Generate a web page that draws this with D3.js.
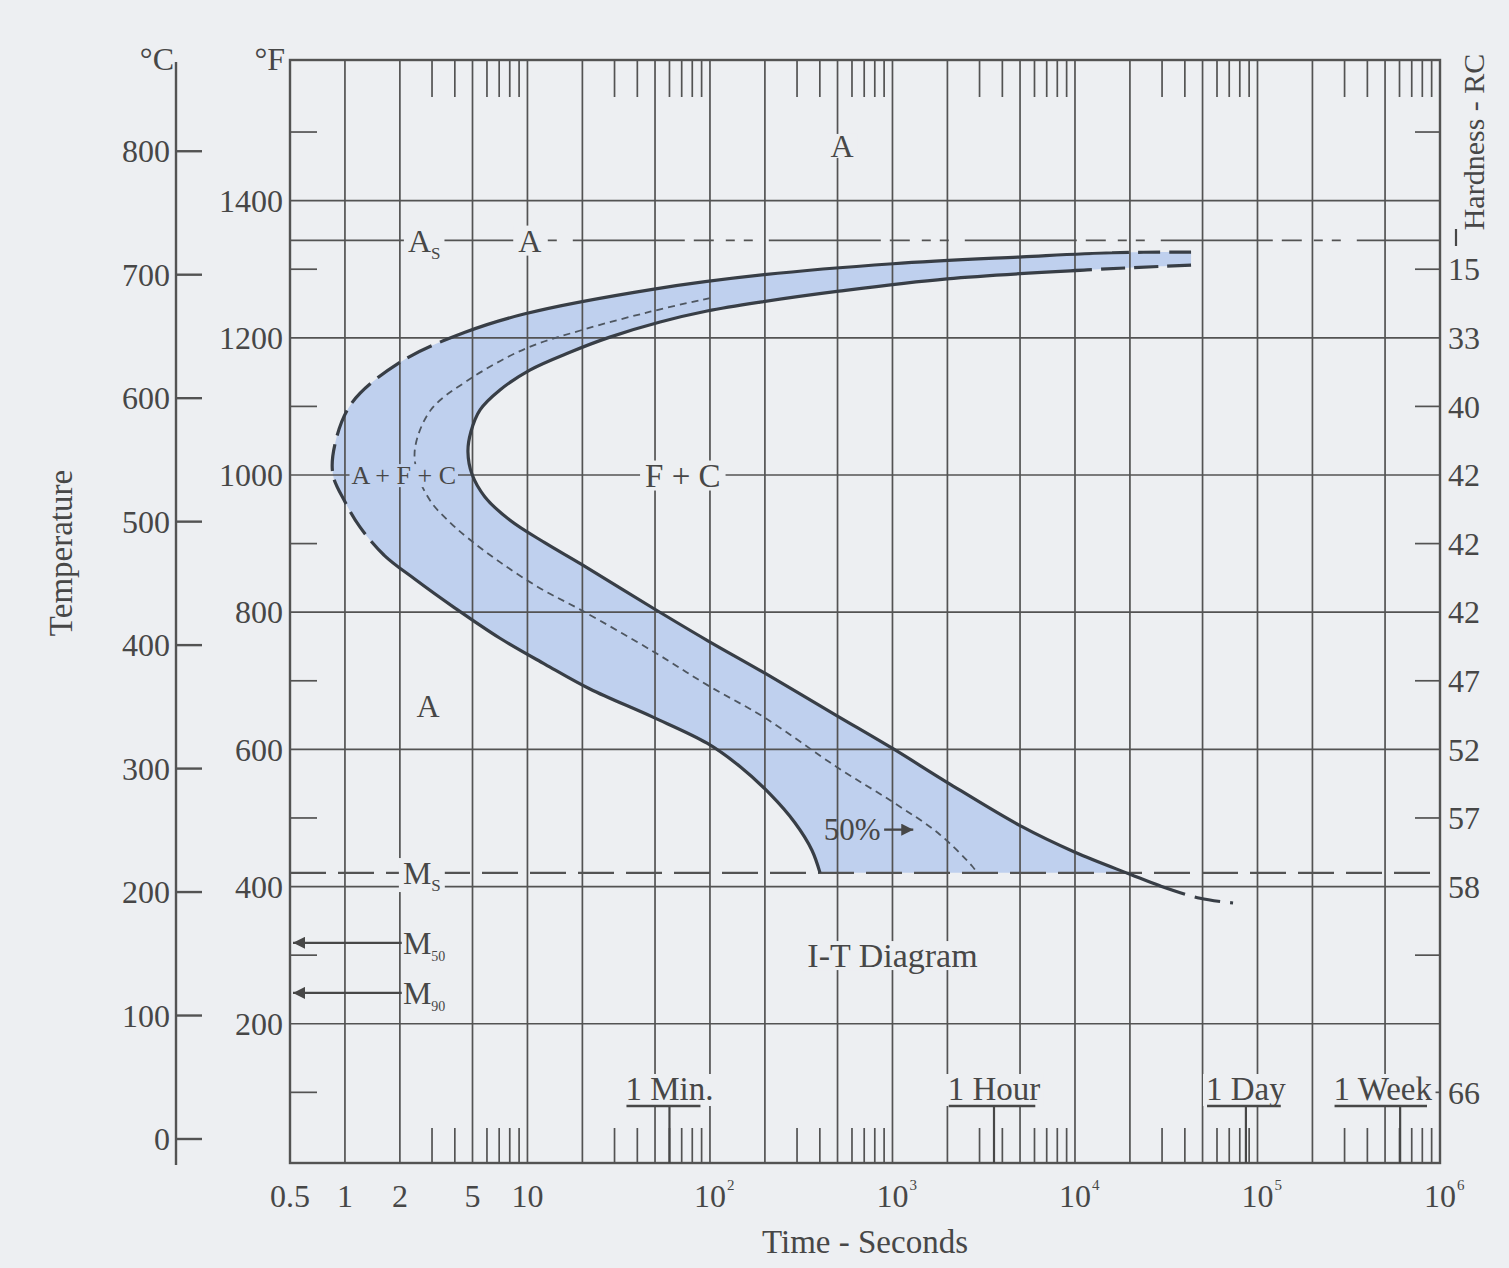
<!DOCTYPE html>
<html>
<head>
<meta charset="utf-8">
<script src="https://cdn.jsdelivr.net/npm/d3@7"></script>
<style>
  html, body { margin: 0; padding: 0; background: #edeff2; }
  svg { display: block; }
  text { font-family: "Liberation Serif", "Times New Roman", serif; fill: #474747; }
</style>
</head>
<body>
<svg id="chart" width="1509" height="1268"></svg>
<script>
// ---------------- data ----------------
// time axis (seconds, log scale)
const timeGridValues = [1, 2, 5, 10, 20, 50, 100, 200, 500, 1e3, 2e3, 5e3, 1e4, 2e4, 5e4, 1e5, 2e5, 5e5];
const timeMinorMultipliers = [3, 4, 6, 7, 8, 9];
const timeMinorDecades = [1, 10, 100, 1e3, 1e4, 1e5];
const timeTickValues = [0.5, 1, 2, 5, 10, 100, 1e3, 1e4, 1e5, 1e6];
const timeTickLabels = ["0.5", "1", "2", "5", "10", "10", "10", "10", "10", "10"];
const timeTickExponents = ["", "", "", "", "", "2", "3", "4", "5", "6"];

// temperature axes
const fahrenheitLabels = [1400, 1200, 1000, 800, 600, 400, 200];
const fahrenheitMinor = [1500, 1300, 1100, 900, 700, 500, 300, 100];
const celsiusTicks = [0, 100, 200, 300, 400, 500, 600, 700, 800];

// hardness (Rockwell C) after transformation at each temperature
const hardnessTemps = [1300, 1200, 1100, 1000, 900, 800, 700, 600, 500, 400, 100];
const hardnessValues = ["15", "33", "40", "42", "42", "42", "47", "52", "57", "58", "66"];

// critical temperatures (°F)
const AS_TEMP = 1342;
const MS_TEMP = 420;
const M50_TEMP = 318;
const M90_TEMP = 245;

// transformation start curve  [time s, temp °F]
const startCurve = [
  [43250, 1325], [15960, 1324], [5128, 1318], [1007, 1308], [198, 1292], [49.4, 1271],
  [9.7, 1235], [4.55, 1208], [2.05, 1166], [1.09, 1105], [0.88, 1044], [0.86, 1000],
  [1.0, 961], [1.21, 924], [1.64, 883], [2.42, 848], [4.01, 806], [7.07, 762],
  [12.5, 724], [22, 688], [48.7, 647], [96.4, 609], [146, 575], [213, 535],
  [292, 493], [362, 453], [401, 420]
];
// transformation finish curve
const finishCurve = [
  [43250, 1306], [11640, 1299], [1990, 1286], [509, 1268], [188, 1252], [96.4, 1239],
  [53.3, 1223], [28.3, 1201], [17.1, 1179], [10.3, 1153], [7.07, 1124], [5.5, 1095],
  [4.9, 1063], [4.72, 1034], [4.97, 1001], [5.85, 968], [8.03, 934], [12.5, 901],
  [19.7, 870], [49.4, 805], [96.4, 759], [200, 711], [497, 649], [1007, 601],
  [1990, 552], [5063, 488], [10000, 450], [20030, 418], [29250, 401], [48450, 383],
  [73470, 376]
];
// 50% transformed curve
const halfCurve = [
  [100, 1258], [47, 1238], [19.7, 1211], [9.7, 1184], [4.72, 1138], [2.96, 1095],
  [2.42, 1039], [2.51, 1000], [2.96, 961], [3.76, 931], [4.72, 908], [7.07, 873],
  [11.7, 835], [19.7, 803], [49.4, 742], [96.4, 694], [200, 646], [497, 574],
  [1007, 523], [1777, 478], [2729, 430], [2907, 420]
];

// time markers along the bottom
const timeMarkLabels = ["1 Min.", "1 Hour", "1 Day", "1 Week"];
const timeMarkSeconds = [60, 3600, 86400, 604800];

// ---------------- layout ----------------
const BG = "#edeff2", INK = "#474747", GRID = "#535353", CURVE = "#383e46", BAND = "#bfd0ee";
const plot = { left: 290, right: 1440, top: 60, bottom: 1163 };
const celsiusAxisX = 176;

const svg = d3.select("#chart");
svg.append("rect").attr("width", 1509).attr("height", 1268).attr("fill", BG);

const x = d3.scaleLog().domain([0.5, 1e6]).range([plot.left, plot.right]);
const yF = d3.scaleLinear().domain([-3, 1605]).range([plot.bottom, plot.top]);
const yC = d3.scaleLinear()
  .domain([(-3 - 32) * 5 / 9, (1605 - 32) * 5 / 9])
  .range([plot.bottom, plot.top]);

const curveLine = d3.line()
  .x(d => x(d[0]))
  .y(d => yF(d[1]))
  .curve(d3.curveCatmullRom.alpha(0.5));

// ---------------- defs ----------------
const defs = svg.append("defs");
defs.append("clipPath").attr("id", "aboveMs")
  .append("rect")
  .attr("x", plot.left).attr("y", plot.top)
  .attr("width", plot.right - plot.left)
  .attr("height", yF(MS_TEMP) - plot.top);

defs.append("marker")
  .attr("id", "arrowHead")
  .attr("viewBox", "0 -5 10 10")
  .attr("refX", 10).attr("refY", 0)
  .attr("markerUnits", "userSpaceOnUse")
  .attr("markerWidth", 17).attr("markerHeight", 12)
  .attr("orient", "auto")
  .append("path").attr("d", "M0,-5L10,0L0,5Z").attr("fill", INK);

// ---------------- band between start and finish ----------------
const bandPath = curveLine(startCurve) + "L" +
  curveLine(finishCurve.slice().reverse()).slice(1) + "Z";
svg.append("path")
  .attr("d", bandPath)
  .attr("fill", BAND)
  .attr("clip-path", "url(#aboveMs)");

// ---------------- grid ----------------
const grid = svg.append("g").attr("stroke", GRID).attr("stroke-width", 1.7);

grid.selectAll(".vgrid").data(timeGridValues).join("line")
  .attr("x1", d => x(d)).attr("x2", d => x(d))
  .attr("y1", plot.top).attr("y2", plot.bottom);

grid.selectAll(".hgrid").data(fahrenheitLabels).join("line")
  .attr("x1", plot.left).attr("x2", plot.right)
  .attr("y1", d => yF(d)).attr("y2", d => yF(d));

// minor time ticks, top and bottom
const minorTimes = [];
timeMinorDecades.forEach(dec => timeMinorMultipliers.forEach(m => minorTimes.push(dec * m)));
grid.selectAll(".tTop").data(minorTimes).join("line")
  .attr("x1", d => x(d)).attr("x2", d => x(d))
  .attr("y1", plot.top).attr("y2", plot.top + 37);
grid.selectAll(".tBot").data(minorTimes).join("line")
  .attr("x1", d => x(d)).attr("x2", d => x(d))
  .attr("y1", plot.bottom).attr("y2", plot.bottom - 35);

// odd-hundred temperature ticks, left and right
grid.selectAll(".fl").data(fahrenheitMinor).join("line")
  .attr("x1", plot.left).attr("x2", plot.left + 27)
  .attr("y1", d => yF(d)).attr("y2", d => yF(d));
grid.selectAll(".fr").data(fahrenheitMinor).join("line")
  .attr("x1", plot.right).attr("x2", plot.right - 25)
  .attr("y1", d => yF(d)).attr("y2", d => yF(d));

// frame
svg.append("rect")
  .attr("x", plot.left).attr("y", plot.top)
  .attr("width", plot.right - plot.left).attr("height", plot.bottom - plot.top)
  .attr("fill", "none").attr("stroke", GRID).attr("stroke-width", 2.4);

// Celsius axis
const cAxis = svg.append("g").attr("stroke", GRID).attr("stroke-width", 2.4);
cAxis.append("line")
  .attr("x1", celsiusAxisX).attr("x2", celsiusAxisX)
  .attr("y1", plot.top + 2).attr("y2", plot.bottom + 2);
cAxis.selectAll(".ct").data(celsiusTicks).join("line")
  .attr("x1", celsiusAxisX).attr("x2", celsiusAxisX + 26)
  .attr("y1", d => yC(d)).attr("y2", d => yC(d));

// ---------------- reference lines ----------------
const refs = svg.append("g").attr("stroke", GRID).attr("stroke-width", 1.9).attr("fill", "none");
// As line: solid up to the label, dashed beyond
refs.append("line")
  .attr("x1", plot.left).attr("x2", x(10.3))
  .attr("y1", yF(AS_TEMP)).attr("y2", yF(AS_TEMP));
refs.append("line")
  .attr("x1", x(10.3)).attr("x2", plot.right)
  .attr("y1", yF(AS_TEMP)).attr("y2", yF(AS_TEMP))
  .attr("stroke-dasharray", "9,9,9,16,112,9,20,12");
// Ms line
refs.append("line")
  .attr("x1", plot.left).attr("x2", plot.right)
  .attr("y1", yF(MS_TEMP)).attr("y2", yF(MS_TEMP))
  .attr("stroke-width", 2.1)
  .attr("stroke-dasharray", "36,12");
// M50, M90 arrows
[M50_TEMP, M90_TEMP].forEach(T => {
  svg.append("line")
    .attr("x1", x(2) + 2).attr("x2", plot.left + 3)
    .attr("y1", yF(T)).attr("y2", yF(T))
    .attr("stroke", INK).attr("stroke-width", 2.3)
    .attr("marker-end", "url(#arrowHead)");
});

// ---------------- curves ----------------
const tmpPath = svg.append("path").attr("visibility", "hidden");
function lengthsAt(points) {
  return points.map((p, i) => i === 0 ? 0 :
    tmpPath.attr("d", curveLine(points.slice(0, i + 1))).node().getTotalLength());
}
// dash pattern that is solid on some stretches of a curve and dashed on others
function dashArray(points, segments) {
  const lens = lengthsAt(points);
  const arr = [];
  segments.forEach(s => {
    const L = lens[s.to] - lens[s.from];
    if (!s.dash) { arr.push(L, 0); return; }
    let acc = 0;
    while (acc < L - 0.5) {
      const d = Math.min(s.dash[0], L - acc); acc += d;
      const g = Math.min(s.dash[1], Math.max(0, L - acc)); acc += g;
      arr.push(d, g);
    }
  });
  arr.push(2000, 0);
  return arr.map(v => v.toFixed(2)).join(",");
}

const curves = svg.append("g").attr("fill", "none").attr("stroke", CURVE);

curves.append("path")
  .attr("d", curveLine(startCurve))
  .attr("stroke-width", 3.2)
  .attr("stroke-dasharray", dashArray(startCurve, [
    { from: 0, to: 1, dash: [22, 9] },
    { from: 1, to: 7 },
    { from: 7, to: 14, dash: [27, 9] },
    { from: 14, to: startCurve.length - 1 }
  ]));

curves.append("path")
  .attr("d", curveLine(finishCurve))
  .attr("stroke-width", 3.2)
  .attr("stroke-dasharray", dashArray(finishCurve, [
    { from: 0, to: 1, dash: [24, 9] },
    { from: 1, to: 28 },
    { from: 28, to: finishCurve.length - 1, dash: [26, 10] }
  ]));

curves.append("path")
  .attr("d", curveLine(halfCurve))
  .attr("stroke", "#4e5660")
  .attr("stroke-width", 1.8)
  .attr("stroke-dasharray", "7,5");

tmpPath.remove();

// 50% pointer
svg.append("line")
  .attr("x1", x(900)).attr("x2", x(1300))
  .attr("y1", yF(483)).attr("y2", yF(483))
  .attr("stroke", INK).attr("stroke-width", 2.3)
  .attr("marker-end", "url(#arrowHead)");

// ---------------- labels ----------------
// text with an optional backing box that interrupts the lines behind it
function label(opts) {
  const { text, sub, px, py, size = 32, anchor = "middle", box = BG, subSize = 16, subDy = 7, padX = 4, padY = 3 } = opts;
  const t = svg.append("text")
    .attr("x", px).attr("y", py).attr("dy", "0.35em")
    .attr("text-anchor", anchor).attr("font-size", size);
  t.append("tspan").text(text);
  if (sub) t.append("tspan").attr("font-size", subSize).attr("dy", subDy).text(sub);
  if (box) {
    const b = t.node().getBBox();
    svg.insert("rect", () => t.node())
      .attr("x", b.x - padX).attr("y", b.y + padY)
      .attr("width", b.width + 2 * padX).attr("height", b.height - 2 * padY)
      .attr("fill", box);
  }
  return t;
}

// region labels
label({ text: "A", px: x(530), py: yF(1480), padY: 6 });
label({ text: "A", sub: "S", px: x(2.0) + 8, py: yF(AS_TEMP), anchor: "start", subSize: 17 });
label({ text: "A", px: x(10.3), py: yF(AS_TEMP), padX: 5 });
label({ text: "A + F + C", px: x(2.1), py: yF(1000), size: 26, box: BAND, padX: 2 });
label({ text: "F + C", px: x(71), py: yF(1000), size: 33, padX: 5 });
label({ text: "A", px: x(2.85), py: yF(663), box: null });
label({ text: "M", sub: "S", px: x(2) + 3, py: yF(MS_TEMP), anchor: "start", subSize: 17 });
label({ text: "M", sub: "50", px: x(2) + 3, py: yF(M50_TEMP), anchor: "start", subSize: 14, padX: 1 });
label({ text: "M", sub: "90", px: x(2) + 3, py: yF(M90_TEMP), anchor: "start", subSize: 14, padX: 1 });
label({ text: "I-T Diagram", px: x(1000), py: yF(300), size: 34, padX: 6, padY: 4 });
label({ text: "50%", px: x(860), py: yF(483), size: 31, anchor: "end", box: null });

// Fahrenheit tick labels
svg.selectAll(".fLab").data(fahrenheitLabels).join("text")
  .attr("x", plot.left - 7).attr("y", d => yF(d)).attr("dy", "0.35em")
  .attr("text-anchor", "end").attr("font-size", 32).text(d => d);

// Celsius tick labels
svg.selectAll(".cLab").data(celsiusTicks).join("text")
  .attr("x", celsiusAxisX - 6).attr("y", d => yC(d)).attr("dy", "0.35em")
  .attr("text-anchor", "end").attr("font-size", 32).text(d => d);

// hardness labels
svg.selectAll(".hLab").data(hardnessTemps).join("text")
  .attr("x", plot.right + 8).attr("y", d => yF(d)).attr("dy", "0.35em")
  .attr("text-anchor", "start").attr("font-size", 32)
  .text((d, i) => hardnessValues[i]);

// unit labels
svg.append("text").attr("x", celsiusAxisX - 2).attr("y", 70).attr("text-anchor", "end")
  .attr("font-size", 32).text("°C");
svg.append("text").attr("x", plot.left - 5).attr("y", 70).attr("text-anchor", "end")
  .attr("font-size", 32).text("°F");

// axis titles
svg.append("text")
  .attr("transform", "translate(72,553) rotate(-90)")
  .attr("text-anchor", "middle").attr("font-size", 33).text("Temperature");
svg.append("text")
  .attr("x", 865).attr("y", 1253)
  .attr("text-anchor", "middle").attr("font-size", 33).text("Time - Seconds");
svg.append("text")
  .attr("transform", "translate(1484,142) rotate(-90)")
  .attr("text-anchor", "middle").attr("font-size", 30).text("Hardness - RC");
svg.append("line")
  .attr("x1", 1456).attr("x2", 1456).attr("y1", 229).attr("y2", 246)
  .attr("stroke", INK).attr("stroke-width", 2.2);

// time tick labels with powers of ten
timeTickValues.forEach((v, i) => {
  const t = svg.append("text")
    .attr("x", x(v)).attr("y", 1207)
    .attr("text-anchor", "middle").attr("font-size", 32)
    .text(timeTickLabels[i]);
  if (timeTickExponents[i]) {
    const w = t.node().getComputedTextLength();
    svg.append("text")
      .attr("x", x(v) + w / 2 + 1).attr("y", 1190)
      .attr("font-size", 15).text(timeTickExponents[i]);
  }
});

// time markers with underline and pointer to the axis
timeMarkSeconds.forEach((sec, i) => {
  const cx = x(sec);
  const t = svg.append("text")
    .attr("y", 1100).attr("font-size", 33).text(timeMarkLabels[i]);
  const w = t.node().getComputedTextLength();
  let left = cx - w / 2;
  if (left + w > plot.right - 8) left = plot.right - 8 - w;
  t.attr("x", left);
  const b = t.node().getBBox();
  svg.insert("rect", () => t.node())
    .attr("x", b.x - 3).attr("y", b.y + 3)
    .attr("width", b.width + 6).attr("height", 1106 - b.y - 3)
    .attr("fill", BG);
  const ulLen = timeMarkLabels[i].endsWith(".") ? w - 14 : w - 6;
  svg.append("line")
    .attr("x1", left + 1).attr("x2", left + 1 + ulLen)
    .attr("y1", 1106).attr("y2", 1106)
    .attr("stroke", INK).attr("stroke-width", 2.4);
  svg.append("line")
    .attr("x1", cx).attr("x2", cx)
    .attr("y1", 1106).attr("y2", plot.bottom)
    .attr("stroke", INK).attr("stroke-width", 2.2);
});
</script>
</body>
</html>
